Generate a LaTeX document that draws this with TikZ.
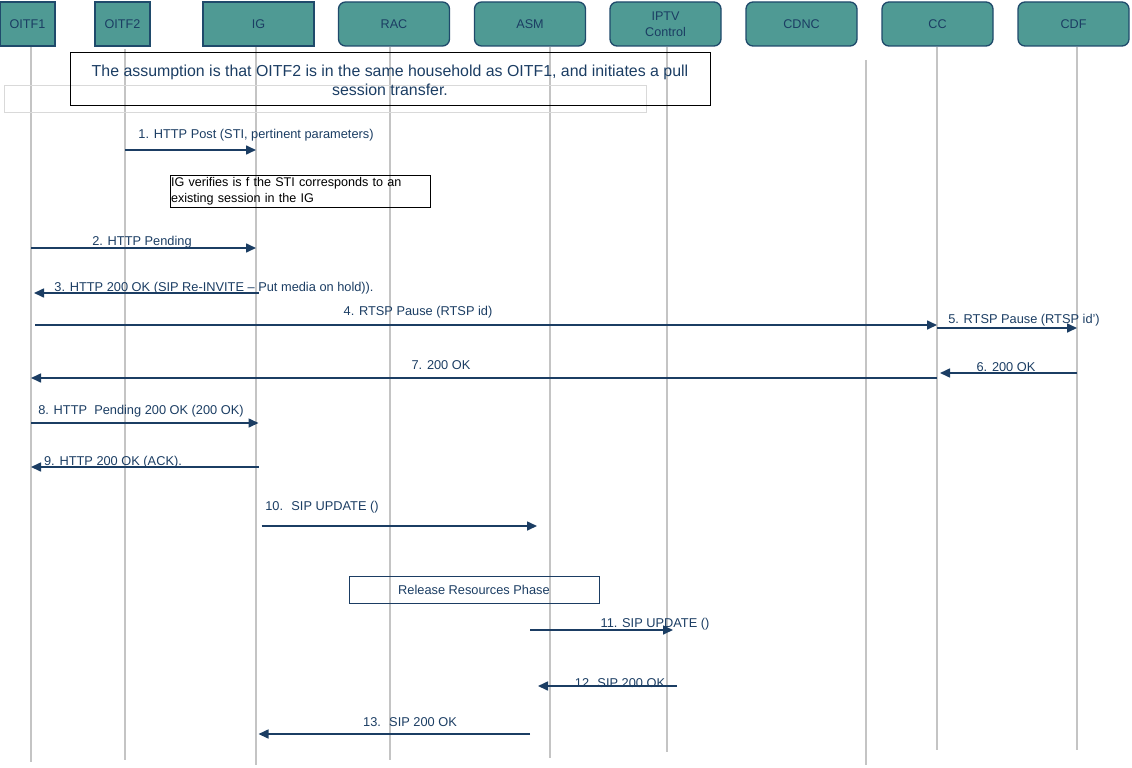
\documentclass[tikz,border=0pt]{standalone}
\usepackage{fontspec}
\setmainfont{Liberation Sans}
\usetikzlibrary{arrows.meta,positioning}
\definecolor{hdrfill}{HTML}{4F9A94}
\definecolor{hdrline}{HTML}{1F4A6B}
\definecolor{navy}{HTML}{1B3D63}
\definecolor{lifegray}{HTML}{C4C4C4}

\begin{document}
\begin{tikzpicture}[x=1pt, y=-1pt,
    ent/.style={rectangle, draw=hdrline, line width=1.3pt, fill=hdrfill, minimum width=111pt, minimum height=44pt, inner sep=0pt, font=\fontsize{12.6}{15.5}\selectfont, text=navy, align=center},
    entr/.style={ent, rounded corners=7pt},
    life/.style={draw=lifegray, line width=1.3pt},
    msg/.style={-{Triangle[length=10pt, width=9pt]}, draw=navy, line width=1.6pt},
    lbl/.style={font=\fontsize{12.8}{15}\selectfont, text=navy, inner sep=0pt, yshift=-1.5pt},
    note/.style={rectangle, draw, line width=1pt, inner sep=0pt}
]
\useasboundingbox (0,0) rectangle (1132,768);

% Entities
\node[ent, minimum width=55pt] (oitf1) at (27.5,24) {\raisebox{-2pt}{OITF1}};
\node[ent, minimum width=55pt] (oitf2) at (122.5,24) {OITF2};
\node[ent] (ig) at (258.5,24) {\raisebox{-1pt}{IG}};
\node[entr] (rac) at (394,24) {\raisebox{-1pt}{RAC}};
\node[entr] (asm) at (530,24) {\raisebox{-1pt}{ASM}};
\node[entr] (iptv) at (665.5,24) {IPTV\\Control};
\node[entr] (cdnc) at (801.5,24) {\raisebox{-1pt}{CDNC}};
\node[entr] (cc) at (937.5,24) {\raisebox{-1pt}{CC}};
\node[entr] (cdf) at (1073.5,24) {\raisebox{-1pt}{CDF}};

% Lifelines
\foreach \n/\x/\ya/\yb in {oitf1/31/47/762, oitf2/125/49/760, ig/256/47/765, rac/390/47/760, asm/550/47/758, iptv/667/47/752, cdnc/866/60/765, cc/937/47/750, cdf/1077/47/750}
  \draw[life] (\x,\ya) coordinate (\n-top) -- (\x,\yb) coordinate (\n-bot);

% Notes
\draw[gray!30, line width=0.8pt] (4,85) rectangle (646,112);
\draw[line width=1pt] (70,53) rectangle (710,105);
\node[align=center, font=\fontsize{15.9}{18.5}\selectfont, text=navy, inner sep=0pt] (assume) at (390,80.5) {The assumption is that OITF2 is in the same household as OITF1, and initiates a pull\\session transfer.};
\node[note, line width=0.8pt, text width=258pt, minimum height=32pt, align=left, font=\fontsize{12.6}{16}\selectfont, inner xsep=1pt] (verify) at (300,191) {IG verifies is f the STI corresponds to an\\existing session in the IG};
\node[note, draw=navy, line width=0.8pt, minimum width=250pt, minimum height=27pt, font=\fontsize{12.8}{15}\selectfont, text=navy] (release) at (474,589.5) {Release Resources Phase};

% Messages
\draw[msg] (oitf2-top |- 0,150) -- (ig-top |- 0,150);
\draw[msg] (oitf1-top |- 0,248) -- (ig-top |- 0,248);
\draw[msg] (ig |- 0,293) -- ([xshift=3pt]oitf1-top |- 0,293);
\draw[msg] ([xshift=4pt]oitf1-top |- 0,325) -- (cc-top |- 0,325);
\draw[msg] (cc-top |- 0,328) -- (cdf-top |- 0,328);
\draw[msg] (cdf-top |- 0,373) -- ([xshift=3pt]cc-top |- 0,373);
\draw[msg] (cc-top |- 0,378) -- (oitf1-top |- 0,378);
\draw[msg] (oitf1-top |- 0,423) -- (ig |- 0,423);
\draw[msg] (ig |- 0,467) -- (oitf1-top |- 0,467);
\draw[msg] ([xshift=3pt]ig |- 0,526) -- ([xshift=7pt]asm |- 0,526);
\draw[msg] (asm |- 0,630) -- ([xshift=6pt]iptv-top |- 0,630);
\draw[msg] ([xshift=10pt]iptv-top |- 0,686) -- ([xshift=8pt]asm |- 0,686);
\draw[msg] (asm |- 0,734) -- (ig |- 0,734);

% Message labels
\node[lbl] (t1) at (256,134) {1. HTTP Post (STI, pertinent parameters)};
\node[lbl] (t2) at (142,241) {2. HTTP Pending};
\node[lbl] (t3) at (214,287) {3. HTTP 200 OK (SIP Re-INVITE -- Put media on hold)).};
\node[lbl] (t4) at (418,311) {4. RTSP Pause (RTSP id)};
\node[lbl] (t5) at (1024,319) {5. RTSP Pause (RTSP id’)};
\node[lbl] (t6) at (1006,366) {6. 200 OK};
\node[lbl] (t7) at (441,364) {7. 200 OK};
\node[lbl] (t8) at (141,410) {8. HTTP~ Pending 200 OK (200 OK)};
\node[lbl] (t9) at (113,461) {9. HTTP 200 OK (ACK).};
\node[lbl] (t10) at (322,506) {10.~ SIP UPDATE ()};
\node[lbl] (t11) at (655,623) {11. SIP UPDATE ()};
\node[lbl] (t12) at (620,682) {12. SIP 200 OK};
\node[lbl] (t13) at (410,721) {13.~ SIP 200 OK};

\end{tikzpicture}
\end{document}
